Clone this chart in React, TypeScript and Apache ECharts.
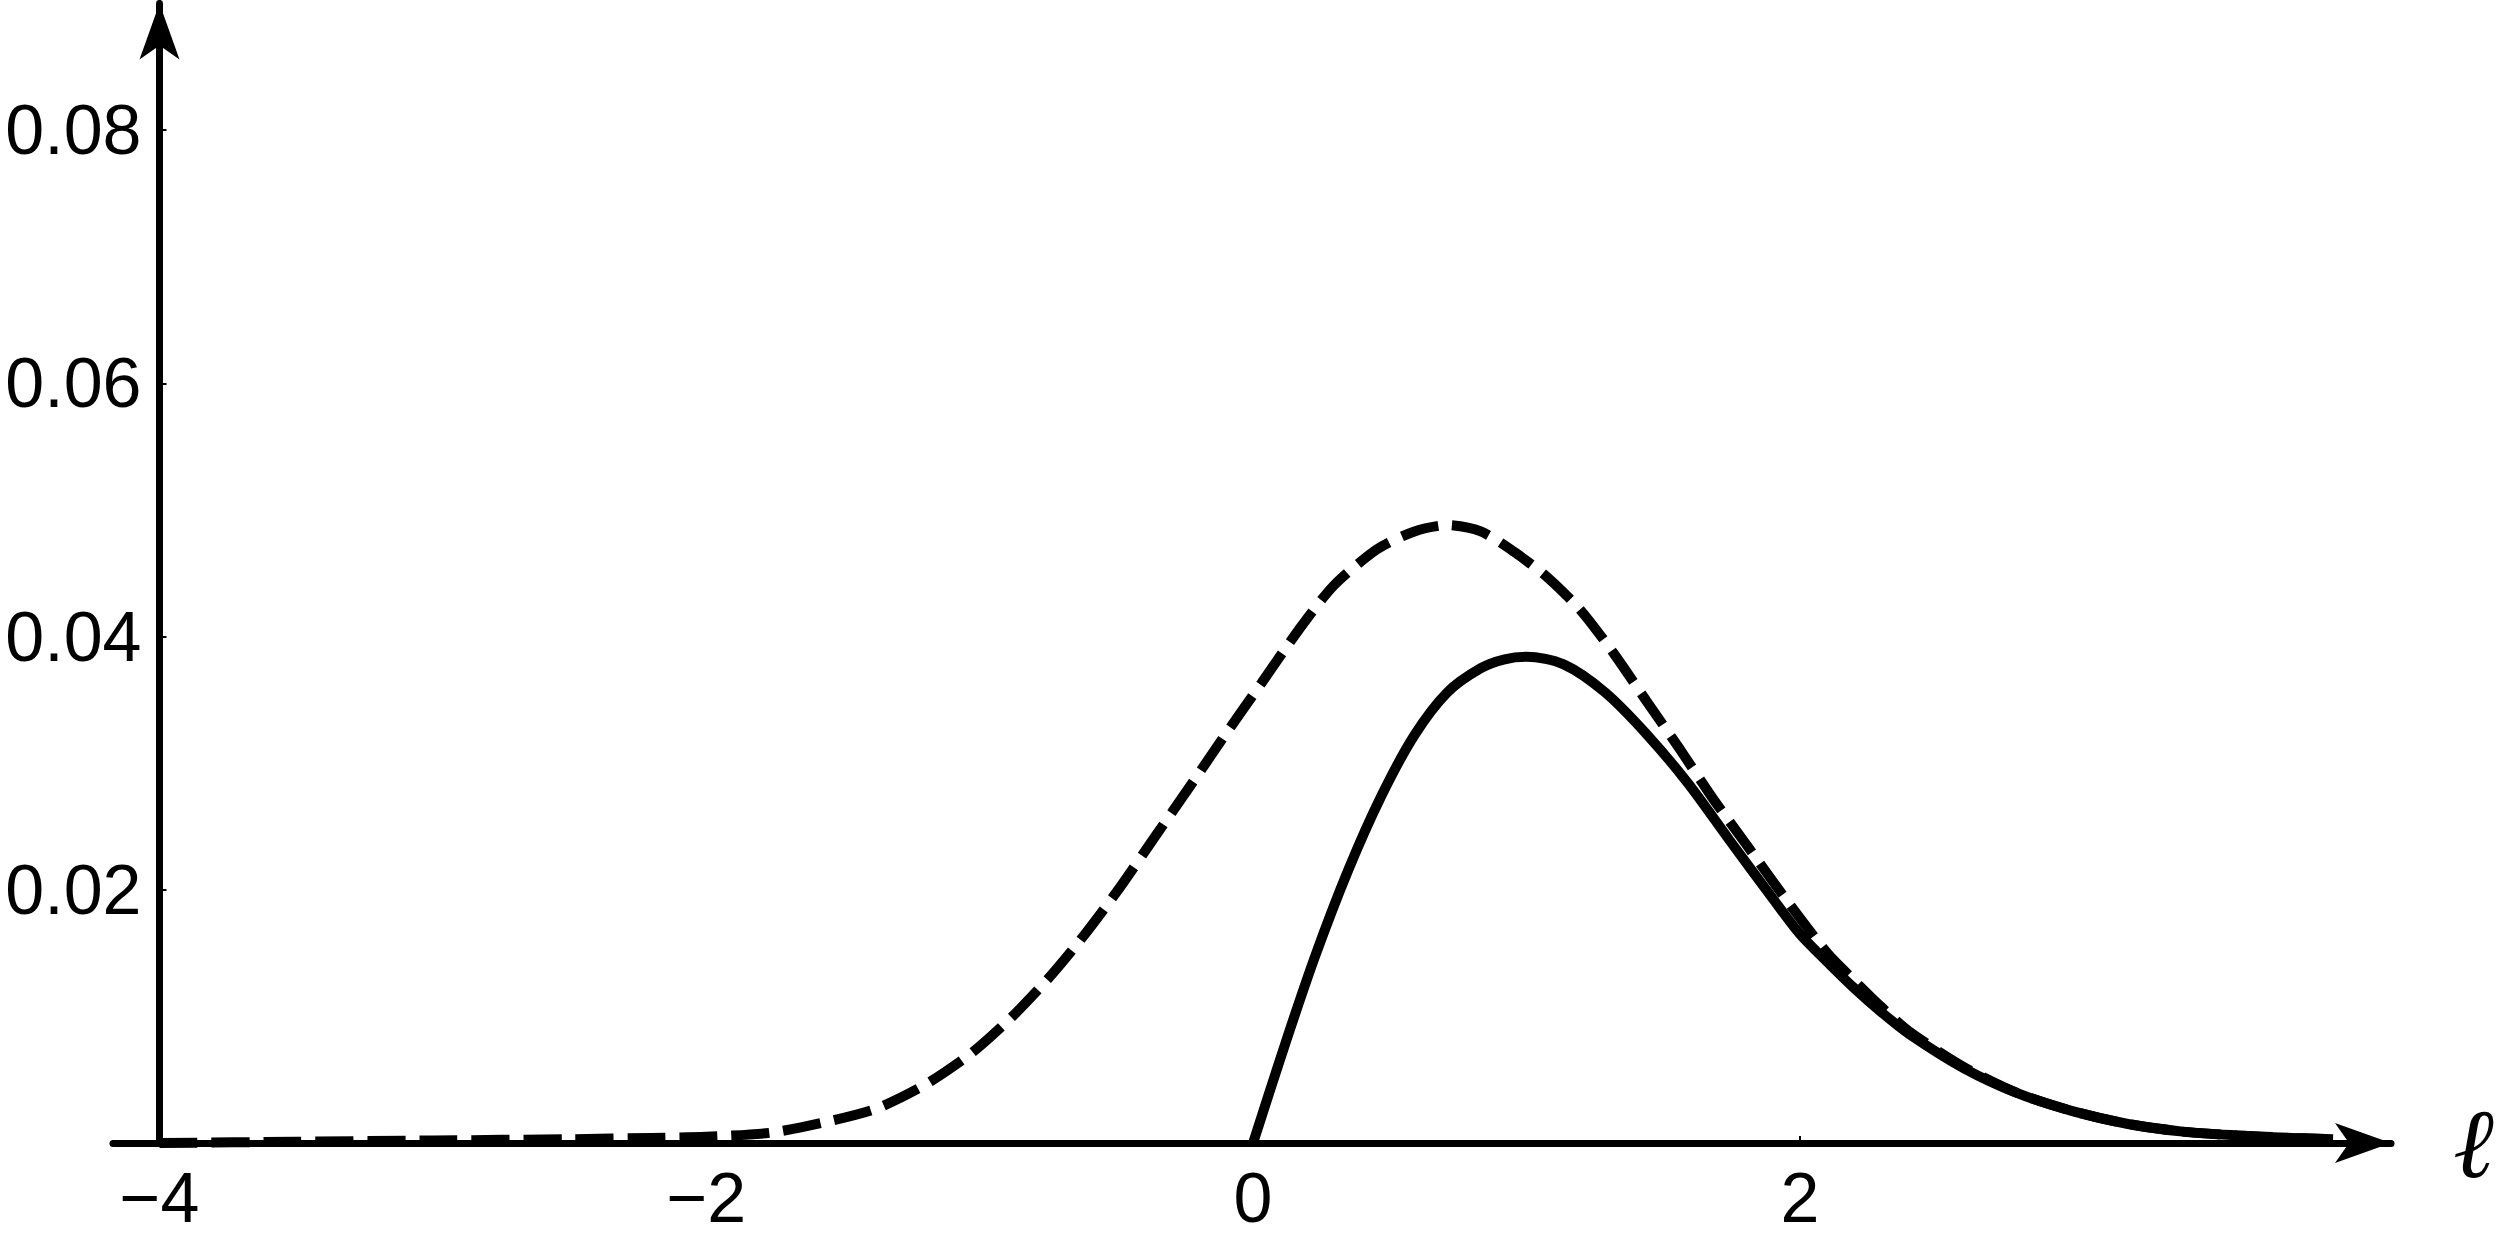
import React, { useEffect, useRef } from "react";
import * as echarts from "echarts";

// Dashed curve (x, y)
const dashedX = [-4.0, -3.5, -3.0, -2.5, -2.2, -2.0, -1.77, -1.575, -1.38, -1.2, -1.03, -0.885, -0.753, -0.633, -0.5, -0.365, -0.214, -0.1, 0.03, 0.166, 0.294, 0.454, 0.59, 0.711, 0.833, 0.954, 1.075, 1.197, 1.318, 1.439, 1.561, 1.682, 1.803, 1.94, 2.1, 2.2, 2.3, 2.4, 2.6, 2.8, 3.0, 3.2, 3.4, 3.6, 3.8, 3.95];
const dashedY = [0.0, 0.0001, 0.0002, 0.0003, 0.0004, 0.0005, 0.0008, 0.0016, 0.0027, 0.0046, 0.0071, 0.0099, 0.0129, 0.016, 0.0198, 0.024, 0.0287, 0.0323, 0.0363, 0.0405, 0.044, 0.0469, 0.0483, 0.0488, 0.0483, 0.0467, 0.0447, 0.0421, 0.0387, 0.0349, 0.0311, 0.0272, 0.0236, 0.0195, 0.015, 0.0128, 0.0107, 0.0088, 0.006, 0.0039, 0.0025, 0.0015, 0.0009, 0.0006, 0.0004, 0.0003];

// Solid curve (x, y)
const solidX = [0, 0.12, 0.226, 0.347, 0.469, 0.59, 0.711, 0.833, 0.92, 1.0, 1.136, 1.287, 1.439, 1.591, 1.743, 1.894, 2.0, 2.1, 2.2, 2.3, 2.4, 2.6, 2.8, 3.0, 3.2, 3.4, 3.6, 3.8, 3.95];
const solidY = [0, 0.008, 0.0147, 0.0215, 0.0274, 0.0322, 0.0356, 0.0375, 0.0382, 0.0384, 0.0378, 0.0356, 0.0323, 0.0284, 0.0239, 0.0195, 0.0165, 0.0143, 0.0122, 0.0103, 0.0086, 0.0059, 0.0039, 0.0025, 0.0015, 0.0009, 0.0006, 0.0004, 0.0003];

// Tick labels
const xTicks = [-4, -2, 0, 2];
const xTickMarks = [-2, 0, 2];
const yTicks = [0.02, 0.04, 0.06, 0.08];

const X_MIN = -4.17;
const X_MAX = 4.162;
const Y_MIN = 0;
const Y_MAX = 0.09;

export default function App() {
  const ref = useRef<HTMLDivElement>(null);
  useEffect(() => {
    if (!ref.current) return;
    const chart = echarts.init(ref.current, null, { renderer: "svg" });
    const font = "'Liberation Sans', Arial, Helvetica, sans-serif";
    chart.setOption({
      animation: false,
      backgroundColor: "#ffffff",
      grid: { left: 113, top: 3.4, width: 2278, height: 1139.6, containLabel: false, outerBoundsMode: "none" },
      xAxis: {
        type: "value",
        min: X_MIN,
        max: X_MAX,
        name: "ℓ",
        nameLocation: "end",
        nameGap: 62,
        nameTextStyle: {
          fontFamily: "'DejaVu Serif', serif",
          fontStyle: "italic",
          fontSize: 98,
          color: "#000",
          padding: [12, 0, 0, 0],
        },
        axisLine: {
          show: true,
          onZero: false,
          symbol: ["none", "arrow"],
          symbolSize: [30, 56],
          lineStyle: { color: "#000", width: 7 },
        },
        axisTick: {
          show: true,
          inside: true,
          length: 7,
          customValues: xTickMarks,
          lineStyle: { color: "#000", width: 2 },
        },
        axisLabel: {
          show: true,
          customValues: xTicks,
          margin: 20,
          fontFamily: font,
          fontSize: 70,
          color: "#000",
          formatter: (v: number) => (v < 0 ? "\u2212" + Math.abs(v) : String(v)),
        },
        splitLine: { show: false },
      },
      yAxis: {
        type: "value",
        min: Y_MIN,
        max: Y_MAX,
        offset: -46.5,
        axisLine: {
          show: true,
          onZero: false,
          symbol: ["none", "arrow"],
          symbolSize: [30, 56],
          lineStyle: { color: "#000", width: 7 },
        },
        axisTick: {
          show: true,
          inside: true,
          length: 7,
          customValues: yTicks,
          lineStyle: { color: "#000", width: 2 },
        },
        axisLabel: {
          show: true,
          customValues: yTicks,
          margin: 18,
          fontFamily: font,
          fontSize: 70,
          color: "#000",
          formatter: (v: number) => v.toFixed(2),
        },
        splitLine: { show: false },
      },
      series: [
        {
          type: "line",
          data: dashedX.map((x, i) => [x, dashedY[i]]),
          showSymbol: false,
          symbol: "none",
          smooth: 0.25,
          clip: false,
          lineStyle: { color: "#000", width: 10, type: [38, 14], cap: "butt" },
          z: 3,
        },
        {
          type: "line",
          data: solidX.map((x, i) => [x, solidY[i]]),
          showSymbol: false,
          symbol: "none",
          smooth: 0.3,
          clip: false,
          lineStyle: { color: "#000", width: 10, type: "solid" },
          z: 4,
        },
      ],
    });
    return () => chart.dispose();
  }, []);
  return (
    <div
      ref={ref}
      style={{ position: "absolute", left: 0, top: 0, width: 2500, height: 1247, background: "#fff" }}
    />
  );
}
